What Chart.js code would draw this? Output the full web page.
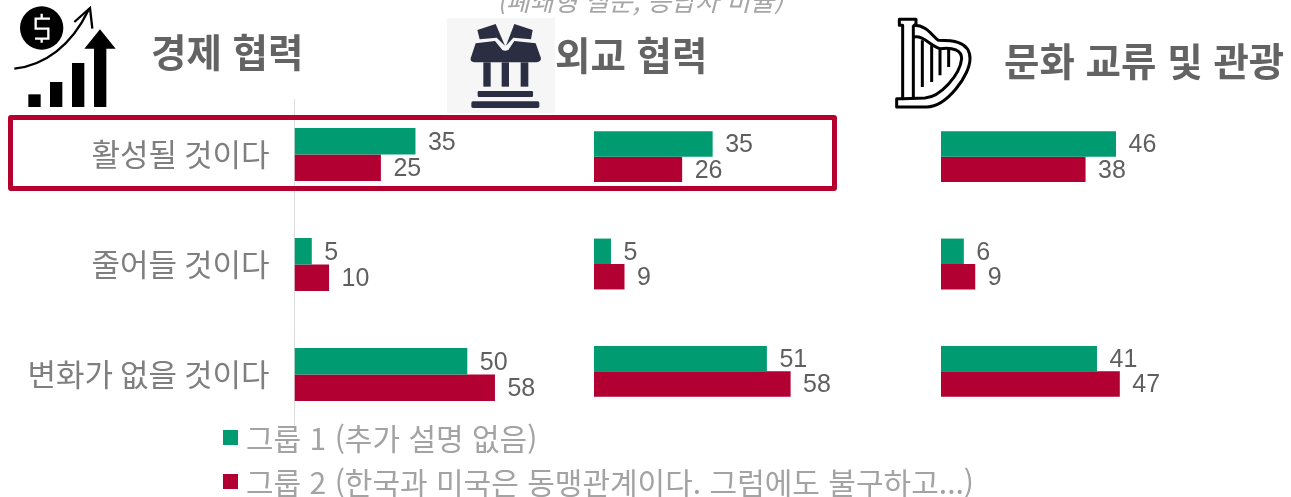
<!DOCTYPE html>
<html lang="ko">
<head>
<meta charset="utf-8">
<script src="https://cdn.jsdelivr.net/npm/chart.js@4"></script>
<style>
html,body{margin:0;padding:0;background:#fff;overflow:hidden}
#stage{position:relative;width:1291px;height:497px;overflow:hidden;font-family:"Noto Sans CJK KR","Noto Sans",sans-serif}
.cv{position:absolute;top:0;height:497px}
.title{position:absolute;font-weight:700;color:#636363;font-size:38.5px;line-height:44px;white-space:nowrap}
#sub{position:absolute;left:497px;top:-15px;font-size:26px;line-height:30px;font-style:italic;color:#a6a6a6;white-space:nowrap}
#frame{position:absolute;left:8px;top:115px;width:819px;height:66px;border:5.5px solid #b5002f;border-radius:3px;pointer-events:none}
.leg{position:absolute;left:223px;display:flex;align-items:center;white-space:nowrap;color:#a3a3a3;font-size:30px;height:44px}
.leg i{display:block;width:15px;height:15px;margin-right:8px}
svg{position:absolute;overflow:visible}
</style>
</head>
<body>
<div id="stage">
  <div class="cv" style="left:0;width:590px"><canvas id="c1"></canvas></div>
  <div class="cv" style="left:594px;width:340px"><canvas id="c2"></canvas></div>
  <div class="cv" style="left:941px;width:350px"><canvas id="c3"></canvas></div>
  <div id="frame"></div>
  <div id="sub">(폐쇄형 질문, 응답자 비율)</div>
  <div class="title" style="left:151px;top:28px" id="t1"></div>
  <div class="title" style="left:555px;top:31px" id="t2"></div>
  <div class="title" style="left:1004px;top:37px" id="t3"></div>
  <div id="legend"></div>

  <!-- money icon -->
  <svg style="left:5px;top:2px" width="120" height="110" viewBox="0 0 360 330">
    <circle cx="110" cy="78" r="65" fill="#000"/>
    <path d="M135 50 L92 50 L92 80 L130 80 L130 110 L90 110 M110 35 L110 50 M110 110 L110 122" fill="none" stroke="#fff" stroke-width="7"/>
    <path d="M28 200 C120 190 200 130 250 25" fill="none" stroke="#000" stroke-width="7"/>
    <path d="M208 60 L255 18 L262 80" fill="none" stroke="#000" stroke-width="7"/>
    <rect x="70" y="277" width="37" height="38"/>
    <rect x="135" y="240" width="37" height="75"/>
    <rect x="201" y="183" width="37" height="132"/>
    <rect x="267" y="135" width="37" height="180"/>
    <path d="M238 140 L285 82 L332 140 Z"/>
  </svg>

  <!-- building icon -->
  <svg style="left:445px;top:15px" width="115" height="100" viewBox="0 0 345 300">
    <rect x="6" y="9" width="324" height="285" fill="#f6f6f6"/>
    <g fill="#2b2d42">
      <path d="M97 45 L152 27 L180 92 L155 68 L104 73 Z"/>
      <path d="M263 45 L208 27 L183 92 L205 68 L258 73 Z"/>
      <path d="M92 85 L150 78 L172 105 Q180 110 190 105 L208 78 L272 85 L288 130 Q288 140 275 142 L88 142 Q75 140 77 130 Z"/>
      <rect x="115" y="142" width="22" height="73"/>
      <rect x="170" y="142" width="22" height="73"/>
      <rect x="227" y="142" width="23" height="73"/>
      <rect x="98" y="228" width="166" height="18" rx="4"/>
      <rect x="79" y="259" width="204" height="20" rx="5"/>
    </g>
  </svg>

  <!-- harp icon -->
  <svg style="left:890px;top:12px" width="90" height="100" viewBox="0 0 270 300" fill="none" stroke="#000" stroke-width="9" stroke-linejoin="round">
    <path d="M28 22 L78 22 L78 38 L72 40 C110 40 125 70 145 85 C180 85 240 85 240 140 C240 190 170 285 110 285 L20 285 L20 260 L38 260 L38 40 L28 40 Z" fill="#fff"/>
    <path d="M70 40 L70 260"/>
    <path d="M72 75 C100 70 120 100 150 110 C190 105 215 115 215 140 C210 190 150 255 105 258 L38 260"/>
    <path d="M97 85 L97 225 M125 100 L125 210 M150 112 L150 190 M176 112 L176 165"/>
  </svg>
</div>
<script>
const categories = ["활성될 것이다", "줄어들 것이다", "변화가 없을 것이다"];
const seriesNames = ["그룹 1 (추가 설명 없음)", "그룹 2 (한국과 미국은 동맹관계이다. 그럼에도 불구하고...)"];
const seriesColors = ["#009b70", "#b20032"];
const panelTitles = ["경제 협력", "외교 협력", "문화 교류 및 관광"];
const economyGroup1 = [35, 5, 50];
const economyGroup2 = [25, 10, 58];
const diplomacyGroup1 = [35, 5, 51];
const diplomacyGroup2 = [26, 9, 58];
const cultureGroup1 = [46, 6, 41];
const cultureGroup2 = [38, 9, 47];

const valueLabels = {
  id: "valueLabels",
  afterDatasetsDraw(chart) {
    const ctx = chart.ctx;
    ctx.save();
    ctx.font = '25px "Liberation Sans"';
    ctx.fillStyle = "#5f5f5f";
    ctx.textBaseline = "middle";
    chart.data.datasets.forEach((ds, i) => {
      chart.getDatasetMeta(i).data.forEach((bar, j) => {
        ctx.fillText(String(ds.data[j]), bar.x + 12.5, bar.y + 1.5);
      });
    });
    ctx.restore();
  }
};

function makeChart(id, g1, g2, xMax, top, bottom, showAxis) {
  new Chart(document.getElementById(id), {
    type: "bar",
    plugins: [valueLabels],
    data: {
      labels: categories,
      datasets: [
        {label: seriesNames[0], data: g1, backgroundColor: seriesColors[0]},
        {label: seriesNames[1], data: g2, backgroundColor: seriesColors[1]}
      ]
    },
    options: {
      indexAxis: "y",
      responsive: true,
      maintainAspectRatio: false,
      animation: false,
      layout: {padding: {top, bottom, left: 0, right: 0}},
      datasets: {bar: {barPercentage: 1, categoryPercentage: showAxis ? 0.48 : 0.474}},
      plugins: {legend: {display: false}, tooltip: {enabled: false}, title: {display: false}},
      scales: {
        x: {type: "linear", min: 0, max: xMax, display: false},
        y: {
          display: showAxis,
          afterFit: showAxis ? (s => { s.width = 294.5; }) : undefined,
          grid: {display: false, drawTicks: false},
          border: {display: true, color: "#dcdcdc", width: 1},
          ticks: {color: "#7f7f7f", padding: 25, font: {family: '"Noto Sans CJK KR"', size: 31}}
        }
      }
    }
  });
}

makeChart("c1", economyGroup1, economyGroup2, 85.5, 99.5, 67.5, true);
makeChart("c2", diplomacyGroup1, diplomacyGroup2, 100.3, 103, 72, false);
makeChart("c3", cultureGroup1, cultureGroup2, 92, 103, 72, false);

["t1", "t2", "t3"].forEach((id, i) => { document.getElementById(id).textContent = panelTitles[i]; });
const legendTops = [415, 459];
document.getElementById("legend").innerHTML = seriesNames.map((n, i) =>
  `<div class="leg" style="top:${legendTops[i]}px"><i style="background:${seriesColors[i]}"></i><span>${n}</span></div>`
).join("");
</script>
</body>
</html>
